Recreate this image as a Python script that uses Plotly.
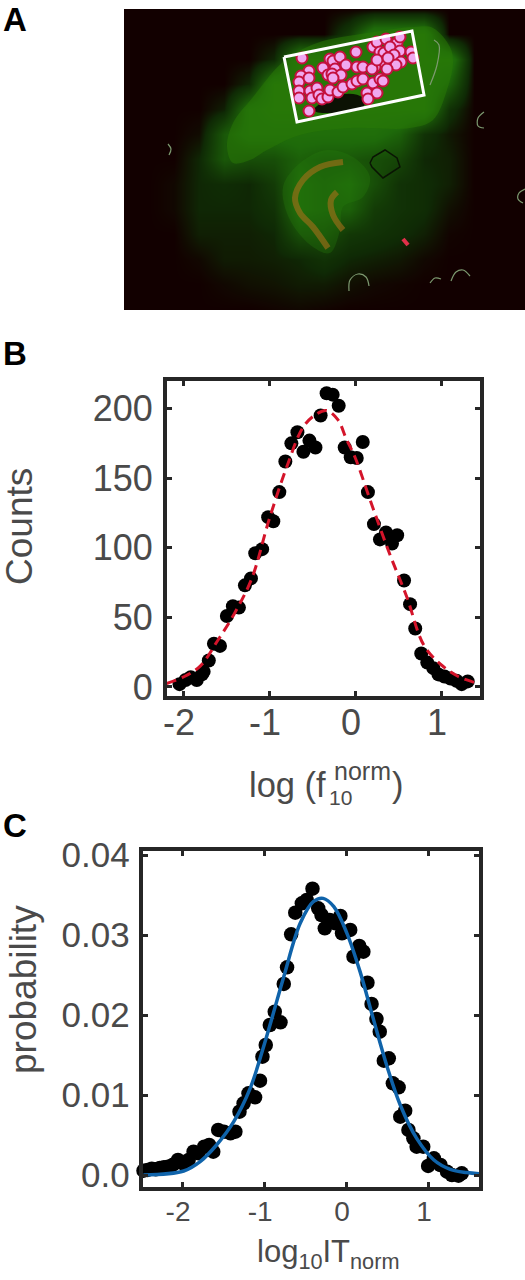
import plotly.graph_objects as go

W, H = 525, 1280
FONT = "Liberation Sans"
GREY = "#4a4a4a"
FRAME = "#262626"

# ---- Panel A: image read as a coarse brightness field (page-pixel coordinates)
a_x = [124,149,174,199,224,249,274,299,324,349,374,399,424,449,474,499,524]
a_y = [9,34,59,84,109,134,159,184,209,234,259,284,309]
a_z = [
 [0,0,0,0,0,0,0,0,0,0,0,0,0,0,0,0,0],
 [0,0,0,0,0,0,0,0,0,2,6,6,6,0,0,0,0],
 [0,0,0,0,0,0,1,6,6,6,6,6,6,6,0,0,0],
 [0,0,0,0,0,1,6,6,6,6,6,6,6,4,0,0,0],
 [0,0,0,0,0.8,5,6,6,6,6,6,6,6,1.5,0,0,0],
 [0,0,0,0.3,3.5,5,5,5,5,5,5,4,1.5,0.6,0,0,0],
 [0,0,0,1,3.5,3,3,4,3.5,3.5,3,2.5,1,0.8,0,0,0],
 [0,0,0.2,1,1.2,1,2,4.5,4,4.5,3,1.5,1.2,0.8,0,0,0],
 [0,0,0.2,1,1,1,1.5,4.5,4,4,2,1.5,1.2,0.4,0,0,0],
 [0,0,0,0.8,0.8,0.8,1,3,3,1.8,1.5,1.2,0.8,0.1,0,0,0],
 [0,0,0,0.2,0.7,0.7,0.8,1,1.5,1,0.8,0.6,0.2,0,0,0,0],
 [0,0,0,0,0.2,0.4,0.5,0.7,0.7,0.4,0.2,0.1,0,0,0,0,0],
 [0,0,0,0,0,0,0.1,0.2,0.1,0,0,0,0,0,0,0,0],
]
cortex_x = [227,233,253,283,317,367,413,433,450,453,447,433,410,350,300,267,250,233,227]
cortex_y = [147,123,97,62,43,33,27,28,47,63,90,120,128,128,135,150,160,163,147]
hippo_x = [283,300,327,353,370,363,343,340,330,313,290,283]
hippo_y = [187,163,150,157,177,197,207,230,253,247,220,187]
layer1_x = [343,320,303,295,300,313,328]
layer1_y = [162,167,180,198,213,227,248]
layer2_x = [337,331,333,343]
layer2_y = [192,200,215,230]
hole_x = [315,333,353,363,362,333,315]
hole_y = [110,98,95,100,107,112,110]
box_x = [284,412,424,297,284]
box_y = [57,31,95,122,57]
cell_x = [302,309,301,299,309,323,330,333,340,346,335,328,332,341,333,356,357,363,
          299,299,310,312,317,319,322,328,330,338,343,352,357,363,373,380,383,367,377,368,309,
          373,377,386,397,400,380,384,390,400,411,413,394,401,396,383,375,372,387,377,388]
cell_y = [58,71,76,82,78,68,59,61,57,65,69,75,74,75,78,52,67,67,
          91,98,91,98,88,95,99,97,90,92,87,84,81,79,83,79,81,93,93,99,111,
          47,42,39,43,37,52,53,47,51,52,58,55,62,65,62,67,69,69,60,58]
ring1_x = [349,350,358,366,369]; ring1_y = [291,280,274,277,286]
ring2_x = [430,435,441]; ring2_y = [283,278,279]
ring3_x = [451,456,463,470]; ring3_y = [281,272,270,276]
ring4_x = [484,478,478,484]; ring4_y = [112,118,126,128]
ring5_x = [168,171,169]; ring5_y = [144,149,155]
ring6_x = [525,519,518,523]; ring6_y = [189,193,199,203]
ring7_x = [434,439,437,430]; ring7_y = [40,45,65,85]
scar_x = [403,408]; scar_y = [239,245]
pit_x = [370,373,385,397,400,383,372,370]; pit_y = [163,157,150,158,167,178,167,163]

# ---- Panel B
b_x = [-2.04,-1.97,-1.91,-1.84,-1.78,-1.76,-1.70,-1.64,-1.57,-1.49,-1.42,-1.35,-1.28,-1.21,-1.16,-1.08,-1.01,
       -0.95,-0.88,-0.81,-0.74,-0.67,-0.60,-0.53,-0.46,-0.40,-0.33,-0.26,-0.19,-0.12,-0.05,0.02,0.09,0.15,
       0.22,0.29,0.36,0.43,0.49,0.57,0.64,0.70,0.77,0.84,0.91,0.97,1.04,1.11,1.18,1.24,1.31]
b_y = [2,5,7,5,9,11,19,31,29.5,51,58,57,73,78,96,99,122,
       119,140,162,175,183,169,177,172,195,211,210,202,172,165,164.5,176,140,
       117,106,111,103,109,76.5,59.5,42,24,17.5,13.5,9,7.5,6,4.5,2,4]
b_fit_x = [-2.19,-2.0,-1.8,-1.6,-1.4,-1.2,-1.0,-0.8,-0.6,-0.45,-0.33,-0.2,-0.1,0.0,0.2,0.4,0.6,0.8,1.0,1.2,1.4,1.45]
b_fit_y = [2.5,7,15,33,53,78,120,157,187,196,198.6,192,178,165,130,96,65,30,16,7.5,3,2]
b_xticks = [-2,-1,0,1]
b_yticks = [0,50,100,150,200]

# ---- Panel C
c_x = [-2.47,-2.42,-2.37,-2.32,-2.27,-2.22,-2.17,-2.11,-2.05,-1.99,-1.92,-1.86,-1.80,-1.73,-1.67,-1.62,-1.56,-1.49,
       -1.41,-1.35,-1.30,-1.25,-1.19,-1.11,-1.05,-1.02,-0.98,-0.93,-0.87,-0.80,-0.76,-0.72,-0.67,-0.62,-0.54,-0.48,
       -0.41,-0.34,-0.30,-0.26,-0.20,-0.13,-0.07,-0.05,0.05,0.09,0.16,0.21,0.26,0.31,0.37,0.41,0.46,0.52,0.57,0.64,
       0.66,0.72,0.76,0.82,0.86,0.94,1.00,1.07,1.15,1.23,1.29,1.37,1.41]
c_y = [.00054,.00063,.00079,.00071,.00088,.00096,.00104,.00129,.00188,.00146,.00188,.00292,.00271,.00354,.00375,.00292,.00563,.00542,
       .00521,.00542,.00792,.00896,.01021,.00971,.01179,.01479,.01625,.01875,.02042,.01908,.02388,.02596,.03008,.03279,.03396,.03438,
       .03579,.03333,.0325,.03083,.03188,.03146,.03238,.03021,.03063,.02729,.02863,.02792,.02404,.02138,.0195,.01792,.01429,.01458,.01146,.01096,
       .00729,.00804,.00563,.00458,.00354,.00354,.00113,.00208,.00125,.00042,0,-.00008,.00021]
c_fit_x = [-2.47,-1.98,-1.78,-1.58,-1.37,-1.17,-0.97,-0.76,-0.56,-0.40,-0.28,-0.15,0.01,0.17,0.33,0.50,0.66,0.86,1.07,1.27,1.47,1.62]
c_fit_y = [0,.0005,.00167,.00375,.00667,.01083,.01729,.02479,.03146,.03417,.03458,.03354,.03021,.02542,.01958,.01354,.00875,.00458,.00188,.00071,.0003,.00015]
c_xticks = [-2,-1,0,1]
c_yticks = [0,0.01,0.02,0.03,0.04]
c_yticklabels = ["0.0","0.01","0.02","0.03","0.04"]


def dx(a, b):
    return [a / W, b / W]


def dy(top, bottom):
    return [1 - bottom / H, 1 - top / H]


AX = dict(xaxis="x", yaxis="y", showlegend=False, hoverinfo="skip")
fig = go.Figure()
fig.add_trace(go.Heatmap(x=a_x, y=a_y, z=a_z, zmin=0, zmax=9, zsmooth="best", showscale=False,
                         colorscale=[[0, "#120000"], [0.12, "#0f2a05"], [0.5, "#1e6a0a"], [1, "#2f8a08"]],
                         xaxis="x", yaxis="y", hoverinfo="skip"))
fig.add_trace(go.Scatter(x=cortex_x, y=cortex_y, mode="lines", fill="toself", fillcolor="rgba(42,122,6,0.5)",
                         line=dict(width=0, shape="spline"), **AX))
fig.add_trace(go.Scatter(x=hippo_x, y=hippo_y, mode="lines", fill="toself", fillcolor="rgba(40,125,12,0.3)",
                         line=dict(width=0, shape="spline"), **AX))
for lx, ly in [(layer1_x, layer1_y), (layer2_x, layer2_y)]:
    fig.add_trace(go.Scatter(x=lx, y=ly, mode="lines", line=dict(color="#a8701a", width=6, shape="spline"),
                             opacity=0.6, **AX))
fig.add_trace(go.Scatter(x=hole_x, y=hole_y, mode="lines", fill="toself", fillcolor="#0c1204",
                         line=dict(color="#0c1204", width=2, shape="spline"), **AX))
for rx, ry in [(ring1_x, ring1_y), (ring2_x, ring2_y), (ring3_x, ring3_y), (ring4_x, ring4_y),
               (ring5_x, ring5_y), (ring6_x, ring6_y), (ring7_x, ring7_y)]:
    fig.add_trace(go.Scatter(x=rx, y=ry, mode="lines", line=dict(color="#7d9a70", width=1.2, shape="spline"), **AX))
fig.add_trace(go.Scatter(x=pit_x, y=pit_y, mode="lines", line=dict(color="#0a1404", width=1.5), **AX))
fig.add_trace(go.Scatter(x=scar_x, y=scar_y, mode="lines", line=dict(color="#e0304a", width=4), **AX))
fig.add_trace(go.Scatter(x=cell_x, y=cell_y, mode="markers", cliponaxis=False,
                         marker=dict(size=11, color="#f0a8f0", line=dict(color="#c4103e", width=2)), **AX))
fig.add_trace(go.Scatter(x=box_x, y=box_y, mode="lines", line=dict(color="white", width=3), **AX))

fig.add_trace(go.Scatter(x=b_x, y=b_y, mode="markers", marker=dict(size=14, color="black"),
                         xaxis="x2", yaxis="y2", showlegend=False))
fig.add_trace(go.Scatter(x=b_fit_x, y=b_fit_y, mode="lines",
                         line=dict(color="#d4142a", width=3, dash="10px,6px", shape="spline"),
                         xaxis="x2", yaxis="y2", showlegend=False))

fig.add_trace(go.Scatter(x=c_x, y=c_y, mode="markers", cliponaxis=False, marker=dict(size=14.5, color="black"),
                         xaxis="x3", yaxis="y3", showlegend=False))
fig.add_trace(go.Scatter(x=c_fit_x, y=c_fit_y, mode="lines", cliponaxis=False,
                         line=dict(color="#0f63aa", width=3.5, shape="spline"),
                         xaxis="x3", yaxis="y3", showlegend=False))

frame = dict(showline=True, linecolor=FRAME, linewidth=4, mirror="ticks", ticks="inside", ticklen=5,
             tickwidth=3, tickcolor=FRAME, showgrid=False, zeroline=False, automargin=False)


def ann(text, px, py, size, color=GREY, xanchor="center", yanchor="middle", angle=0):
    return dict(text=text, x=px / W, y=1 - py / H, xref="paper", yref="paper", xanchor=xanchor, yanchor=yanchor,
                showarrow=False, textangle=angle, font=dict(family=FONT, size=size, color=color), borderpad=0)


annotations = [
    ann("<b>A</b>", 2, 19, 33, "black", "left"),
    ann("<b>B</b>", 2, 353, 33, "black", "left"),
    ann("<b>C</b>", 2, 825, 33, "black", "left"),
    ann("Counts", 19, 527, 37, angle=-90),
    ann("probability", 23, 990, 37, angle=-90),
    ann("log (f", 248, 785, 34.5, xanchor="left"),
    ann("norm", 333, 771, 25, xanchor="left"),
    ann("10", 328, 797, 21, xanchor="left"),
    ann(")", 391, 785, 34.5, xanchor="left"),
    ann("log<sub>10</sub>IT<sub>norm</sub>", 328, 1254, 31),
]

fig.update_layout(
    width=W, height=H, margin=dict(l=0, r=0, t=0, b=0), paper_bgcolor="white", plot_bgcolor="white",
    showlegend=False, font=dict(family=FONT, color=GREY), annotations=annotations,
    xaxis=dict(domain=dx(124, 525), range=[124, 525], visible=False, automargin=False),
    yaxis=dict(domain=dy(9, 310), range=[310, 9], visible=False, automargin=False),
    xaxis2=dict(domain=dx(167, 480), range=[-2.186, 1.453], tickvals=b_xticks, ticktext=["-2", "-1", "0", "1"],
                tickfont=dict(size=36, color=GREY), ticklabelshift=-4, ticklabelstandoff=-8, anchor="y2", **frame),
    yaxis2=dict(domain=dy(381, 696), range=[-6.5, 219.8], tickvals=b_yticks, ticktext=["0", "50", "100", "150", "200"],
                tickfont=dict(size=36, color=GREY), anchor="x2", ticklabelstandoff=3, **frame),
    xaxis3=dict(domain=dx(142.7, 479), range=[-2.48, 1.62], tickvals=c_xticks, ticktext=["-2", "-1", "0", "1"],
                tickfont=dict(size=28, color=GREY), ticklabelshift=-4, ticklabelstandoff=-4, anchor="y3", **frame),
    yaxis3=dict(domain=dy(851, 1187), range=[-0.0015, 0.0405], tickvals=c_yticks, ticktext=c_yticklabels,
                tickfont=dict(size=35, color=GREY), anchor="x3", ticklabelstandoff=2, **frame),
)

fig.write_html("out.html", config={"displayModeBar": False, "staticPlot": True},
               post_script="document.body.style.margin='0';document.documentElement.style.overflow='hidden';")
